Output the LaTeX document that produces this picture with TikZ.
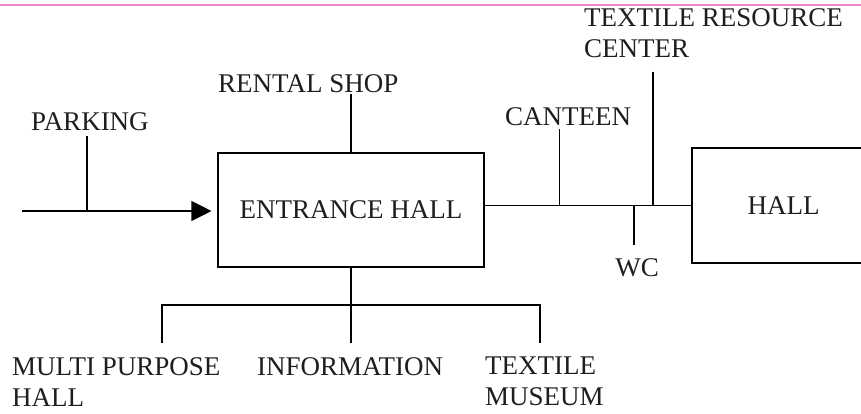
\documentclass[tikz,border=0pt]{standalone}
\usepackage{fontspec}
\setmainfont{Liberation Serif}
\usetikzlibrary{arrows.meta}

\definecolor{scanpink}{RGB}{236,132,200}
\definecolor{inkgray}{RGB}{30,30,30}

\begin{document}
\begin{tikzpicture}[
  x=1pt, y=-1pt,
  every node/.style={font=\fontsize{27}{31}\selectfont, text=inkgray, inner sep=0pt},
  box/.style={draw, rectangle, line width=1.1pt},
  label/.style={anchor=west, align=left},
  link/.style={line width=1.1pt},
  arrow/.style={link, -{Triangle[length=20pt, width=20pt]}}
]
\useasboundingbox (0,0) rectangle (861,414);
\clip (0,0) rectangle (861,414);

% Scan border
\draw[scanpink, line width=1.6pt] (0,5) -- (861,5);

% Main rooms
\node[box, minimum width=266pt, minimum height=114pt] (entrance) at (351,210) {ENTRANCE HALL};
\node[box, minimum width=183pt, minimum height=115pt] (hall) at (783.5,205.5) {HALL};

% Labels
\node[label] (parking) at (31,122) {PARKING};
\node[label] (rental) at (218,83.5) {RENTAL SHOP};
\node[label] (canteen) at (505,117) {CANTEEN};
\node[label] (trc) at (584,33) {TEXTILE RESOURCE\\CENTER};
\node (wc) at (637,268) {WC};
\node[label] (mph) at (12,382.5) {MULTI PURPOSE\\HALL};
\node[label] (info) at (257,367) {INFORMATION};
\node[label] (museum) at (485,381) {TEXTILE\\MUSEUM};

% Junction points
\coordinate (start) at (22,211);
\coordinate (trctop) at (653,72);
\coordinate (wcend) at (634,245);
\coordinate (bus) at (351,305);
\coordinate (mphend) at (162,343);
\coordinate (infoend) at (351,343);
\coordinate (museumend) at (540,343);

% Entrance approach
\draw[arrow, shorten >=6pt] (start) -- (start -| entrance.west);
\draw[link, shorten <=5pt] ([xshift=-3pt]parking.south) -- ([xshift=-3pt]parking.south |- start);

% Entrance hall links
\draw[link, shorten <=1pt] (rental.south -| entrance.north) -- (entrance.north);
\draw[link] (entrance.east |- hall.west) -- (hall.west);

% Right side branches
\draw[link, shorten <=3pt] ([xshift=-9pt]canteen.south) -- ([xshift=-9pt]canteen.south |- hall.west);
\draw[link] (trctop) -- (trctop |- hall.west);
\draw[link] (wcend |- hall.west) -- (wcend);

% Lower branches
\draw[link] (entrance.south) -- (bus) -- (infoend);
\draw[link] (mphend) -- (mphend |- bus) -- (museumend |- bus) -- (museumend);

\end{tikzpicture}
\end{document}
